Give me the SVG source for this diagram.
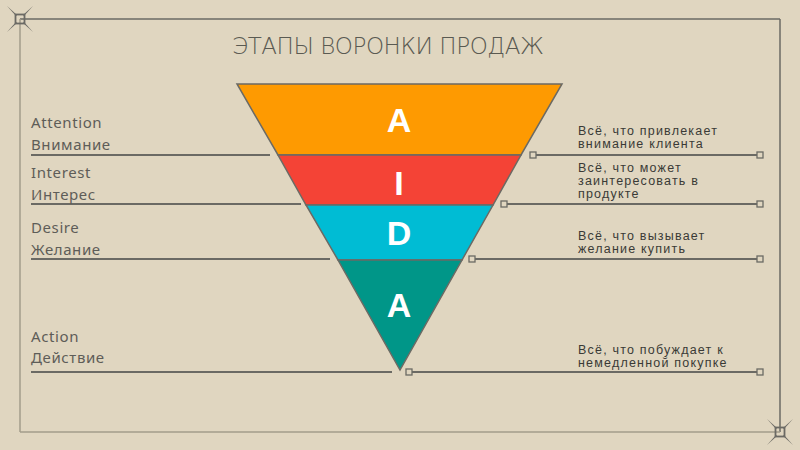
<svg xmlns="http://www.w3.org/2000/svg" width="800" height="450" viewBox="0 0 800 450">
<style>
.lbl{font-family:"Noto Sans","Liberation Sans",sans-serif;font-size:15px;letter-spacing:0.6px;fill:#5e5d58}
.desc{font-family:"Liberation Sans",Arial,sans-serif;font-size:12.5px;letter-spacing:1.2px;fill:#3a3a36}
.let{font-family:"Liberation Sans",Arial,sans-serif;font-weight:bold;font-size:34px;fill:#ffffff;text-anchor:middle}
.ln{stroke:#6b6a64;stroke-width:2;fill:none}
.sq{fill:#e0d6c0;stroke:#6b6a64;stroke-width:1.3}
.band{stroke:#6b6a64;stroke-width:1.5}
</style>
<defs>
<g id="star">
<polygon points="-3,-4 -4,-3 -13,-13" fill="#6b6a64"/>
<polygon points="3,-4 4,-3 13,-13" fill="#6b6a64"/>
<polygon points="-3,4 -4,3 -13,13" fill="#6b6a64"/>
<polygon points="3,4 4,3 13,13" fill="#6b6a64"/>
<rect x="-4.5" y="-4.5" width="9" height="9" fill="none" stroke="#6b6a64" stroke-width="1.8"/>
</g>
</defs>
<rect width="800" height="450" fill="#e0d6c0"/>
<g id="frame">
<line x1="20" y1="19" x2="780" y2="19" stroke="#6b6a64" stroke-width="1.5"/>
<line x1="780" y1="19" x2="780" y2="432" stroke="#6b6a64" stroke-width="1.5"/>
<line x1="20" y1="19" x2="20" y2="432" stroke="#a39d8b" stroke-width="1.5"/>
<line x1="20" y1="432" x2="780" y2="432" stroke="#a39d8b" stroke-width="1.5"/>
<use href="#star" x="20" y="19"/>
<use href="#star" x="780" y="432"/>
</g>
<text id="title" x="388" y="54" text-anchor="middle" textLength="312" font-family="DejaVu Sans, Liberation Sans, sans-serif" font-weight="200" font-size="23" fill="#5a5a52">ЭТАПЫ ВОРОНКИ ПРОДАЖ</text>
<g id="funnel">
<g id="band-a1"><polygon class="band" points="237,84 562,84 521,155 278,155" fill="#fe9a01"/><text class="let" x="399" y="132">A</text></g>
<g id="band-i"><polygon class="band" points="278,155 521,155 493,205 306,205" fill="#f44336"/><text class="let" x="399" y="195">I</text></g>
<g id="band-d"><polygon class="band" points="306,205 493,205 462,260 338,260" fill="#00bcd4"/><text class="let" x="399" y="245">D</text></g>
<g id="band-a2"><polygon class="band" points="338,260 462,260 400,370" fill="#009688"/><text class="let" x="399" y="317">A</text></g>
</g>
<g id="connectors">
<line class="ln" x1="31" y1="155" x2="270" y2="155"/>
<line class="ln" x1="31" y1="204" x2="301" y2="204"/>
<line class="ln" x1="31" y1="259" x2="330" y2="259"/>
<line class="ln" x1="31" y1="372" x2="392" y2="372"/>
<line class="ln" x1="533" y1="155" x2="760" y2="155"/>
<line class="ln" x1="504" y1="204" x2="760" y2="204"/>
<line class="ln" x1="472" y1="259" x2="760" y2="259"/>
<line class="ln" x1="409" y1="372" x2="760" y2="372"/>
<rect class="sq" x="530" y="152" width="6" height="6"/><rect class="sq" x="757" y="152" width="6" height="6"/>
<rect class="sq" x="501" y="201" width="6" height="6"/><rect class="sq" x="757" y="201" width="6" height="6"/>
<rect class="sq" x="469" y="256" width="6" height="6"/><rect class="sq" x="757" y="256" width="6" height="6"/>
<rect class="sq" x="406" y="369" width="6" height="6"/><rect class="sq" x="757" y="369" width="6" height="6"/>
</g>
<g id="labels-left">
<text class="lbl" x="31" y="128">Attention</text><text class="lbl" x="31" y="150">Внимание</text>
<text class="lbl" x="31" y="178">Interest</text><text class="lbl" x="31" y="200">Интерес</text>
<text class="lbl" x="31" y="233">Desire</text><text class="lbl" x="31" y="255">Желание</text>
<text class="lbl" x="31" y="342">Action</text><text class="lbl" x="31" y="363">Действие</text>
</g>
<g id="labels-right">
<text class="desc" x="578" y="135">Всё, что привлекает</text><text class="desc" x="578" y="148">внимание клиента</text>
<text class="desc" x="578" y="172">Всё, что может</text><text class="desc" x="578" y="185">заинтересовать в</text><text class="desc" x="578" y="198">продукте</text>
<text class="desc" x="578" y="240">Всё, что вызывает</text><text class="desc" x="578" y="253">желание купить</text>
<text class="desc" x="578" y="354">Всё, что побуждает к</text><text class="desc" x="578" y="367">немедленной покупке</text>
</g>
</svg>
